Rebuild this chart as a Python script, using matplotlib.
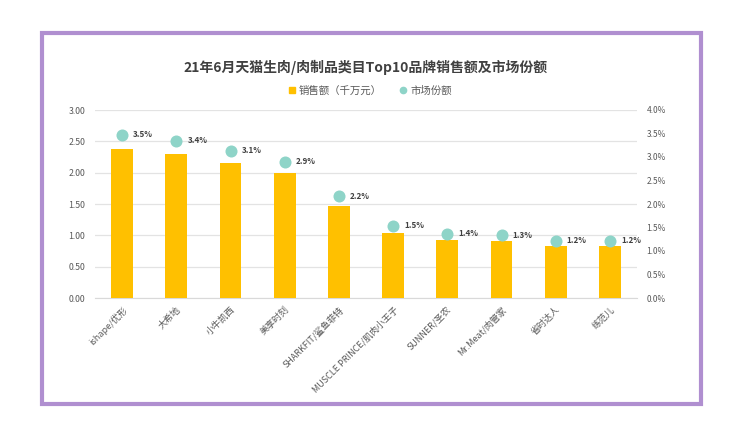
import matplotlib
matplotlib.use("Agg")
import matplotlib.pyplot as plt
from matplotlib.patches import Rectangle
from matplotlib.lines import Line2D
from matplotlib.ticker import FixedLocator

plt.rcParams['font.family'] = ['Noto Sans CJK SC', 'DejaVu Sans']

categories = ["ishape/优形", "大希地", "小牛凯西", "美享时刻", "SHARKFIT/鲨鱼菲特",
              "MUSCLE PRINCE/肌肉小王子", "SUNNER/圣农", "Mr.Meat/肉管家", "省时达人", "练范儿"]
sales = [2.38, 2.30, 2.16, 2.00, 1.47, 1.03, 0.93, 0.91, 0.83, 0.83]
share = [3.47, 3.35, 3.13, 2.90, 2.17, 1.54, 1.37, 1.33, 1.22, 1.22]
share_labels = ["3.5%", "3.4%", "3.1%", "2.9%", "2.2%", "1.5%", "1.4%", "1.3%", "1.2%", "1.2%"]
left_ticks = [0, 0.5, 1.0, 1.5, 2.0, 2.5, 3.0]
right_ticks = [0, 0.5, 1.0, 1.5, 2.0, 2.5, 3.0, 3.5, 4.0]

bar_color = "#FFC000"
dot_color = "#8ED4C8"
text_color = "#595959"
grid_color = "#E3E3E3"

W, H = 750, 422
fig = plt.figure(figsize=(W / 100, H / 100), dpi=100)
fig.patch.set_facecolor("white")

# purple frame
fig.patches.append(Rectangle((42 / W, (H - 404) / H), (701 - 42) / W, (404 - 33) / H,
                             transform=fig.transFigure, fill=False,
                             edgecolor="#B08FD0", linewidth=3))

ax = fig.add_axes([95 / W, (H - 298) / H, 542 / W, 188 / H])
x = list(range(len(categories)))
ax.bar(x, sales, width=0.4, color=bar_color, zorder=3)
ax.set_xlim(-0.5, len(categories) - 0.5)
ax.set_ylim(0, 3.0)
ax.yaxis.set_major_locator(FixedLocator(left_ticks))
ax.set_yticklabels([f"{v:.2f}" for v in left_ticks], fontsize=6.3, color=text_color)
ax.grid(axis="y", color=grid_color, linewidth=0.9, zorder=0)
for s in ["top", "right", "left"]:
    ax.spines[s].set_visible(False)
ax.spines["bottom"].set_color("#D9D9D9")
ax.tick_params(axis="y", length=0, pad=7)
ax.tick_params(axis="x", length=0, pad=5)
ax.set_xticks(x)
ax.set_xticklabels(categories, rotation=45, ha="right", rotation_mode="anchor",
                   fontsize=6.5, color=text_color)

ax2 = ax.twinx()
ax2.set_ylim(0, 4.0)
ax2.yaxis.set_major_locator(FixedLocator(right_ticks))
ax2.set_yticklabels([f"{v:.1f}%" for v in right_ticks], fontsize=6.0, color=text_color)
ax2.tick_params(axis="y", length=0, pad=7)
for s in ["top", "right", "left", "bottom"]:
    ax2.spines[s].set_visible(False)
ax2.scatter(x, share, s=75, color=dot_color, zorder=4, linewidths=0)
for xi, yi, lab in zip(x, share, share_labels):
    ax2.annotate(lab, (xi, yi), xytext=(8, 0), textcoords="offset points",
                 ha="left", va="center", fontsize=5.8, color="#404040", fontweight="bold")

fig.text(366 / W, (H - 67) / H, "21年6月天猫生肉/肉制品类目Top10品牌销售额及市场份额",
         ha="center", va="center", fontsize=10, fontweight="bold", color="#404040")

handles = [Line2D([], [], marker="s", linestyle="none", markersize=5, color=bar_color),
           Line2D([], [], marker="o", linestyle="none", markersize=4.5, color=dot_color)]
fig.legend(handles, ["销售额（千万元）", "市场份额"], loc="center",
           bbox_to_anchor=(369 / W, (H - 91) / H), ncol=2, frameon=False,
           fontsize=7.5, labelcolor=text_color, handletextpad=0.2, columnspacing=1.5,
           handlelength=1.0)

fig.savefig("out.png", dpi=100, facecolor="white")
